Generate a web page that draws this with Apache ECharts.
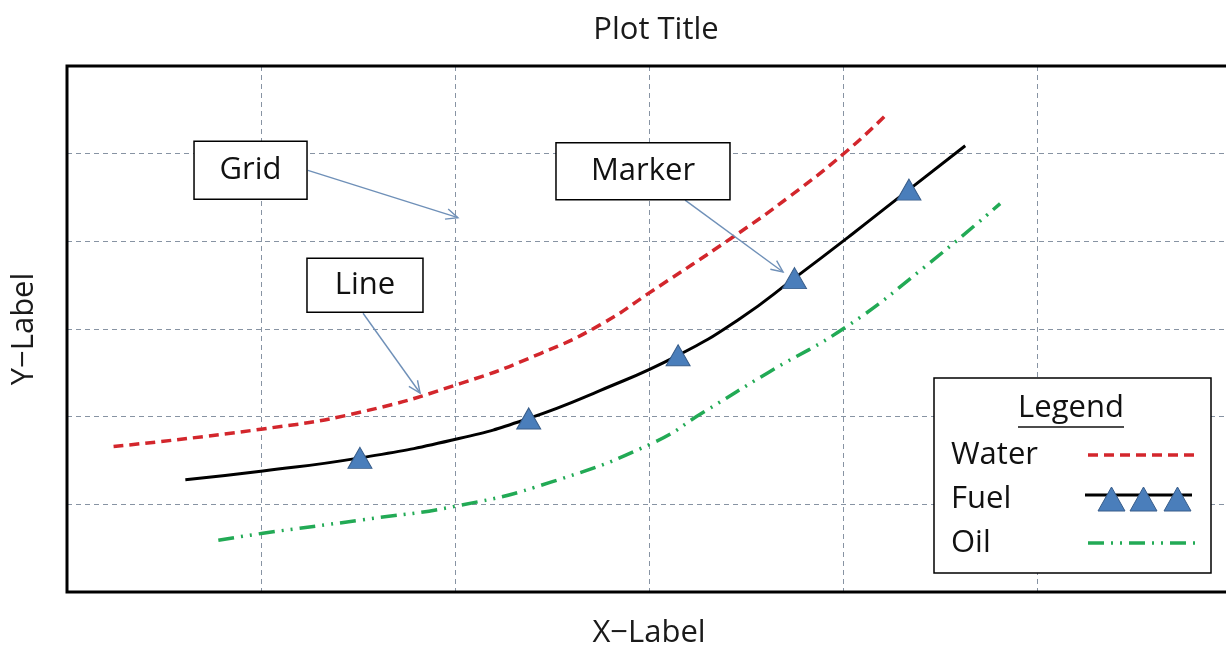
<!DOCTYPE html>
<html>
<head>
<meta charset="utf-8">
<title>Plot Title</title>
<script src="https://cdn.jsdelivr.net/npm/echarts@6/dist/echarts.min.js"></script>
</head>
<body style="margin:0">
<div id="chart" style="width:1226px;height:645px"></div>
<script>
// values (axis units = one grid cell)
var waterX = [0.24, 1.01, 1.51, 2.03, 2.44, 2.75, 3.02, 3.42, 3.73, 4.02, 4.23];
var waterY = [1.66, 1.86, 2.05, 2.38, 2.72, 3.05, 3.44, 4.03, 4.52, 5.03, 5.46];
var fuelX = [0.61, 1.01, 1.51, 2.02, 2.38, 2.75, 3.15, 3.47, 3.75, 4.04, 4.34, 4.63];
var fuelY = [1.28, 1.38, 1.53, 1.75, 1.98, 2.30, 2.70, 3.12, 3.58, 4.07, 4.59, 5.09];
var fuelMarked = [2, 4, 6, 8, 10];
var oilX = [0.78, 1.01, 1.51, 2.03, 2.49, 3.02, 3.28, 3.62, 4.02, 4.40, 4.81];
var oilY = [0.59, 0.67, 0.82, 0.99, 1.25, 1.70, 2.05, 2.51, 3.03, 3.67, 4.43];

// callouts: label, box centre and arrow in data units
var notes = [
  { text: 'Grid',   at: [0.946, 4.81], w: 113, h: 58, from: [1.242, 4.81], to: [2.015, 4.27] },
  { text: 'Line',   at: [1.536, 3.50], w: 116, h: 54, from: [1.526, 3.18], to: [1.820, 2.27] },
  { text: 'Marker', at: [2.969, 4.80], w: 174, h: 57, from: [3.186, 4.47], to: [3.691, 3.65] }
];

var font = 'Open Sans';
var fs = 31;

// legend icon for Fuel: three triangles (tiny end dots pin the icon width)
var threeTriangles = 'path://M0,12L0,12.01L0.01,12Z' +
  'M10,24L23.5,0L37,24Z M42,24L55.5,0L69,24Z M76,24L89.5,0L103,24Z' +
  'M107,12L107,12.01L106.99,12Z';

function pairs(xs, ys) {
  return xs.map(function (x, i) { return [x, ys[i]]; });
}

var fuelData = fuelX.map(function (x, i) {
  return {
    value: [x, fuelY[i]],
    symbol: fuelMarked.indexOf(i) >= 0 ? 'triangle' : 'none'
  };
});

var chart = echarts.init(document.getElementById('chart'));

var gridLine = { show: true, lineStyle: { color: '#8793a3', width: 1, type: [5, 4] } };
var noSymbol = { opacity: 0 };

chart.setOption({
  backgroundColor: '#fff',
  animation: false,
  title: {
    text: 'Plot Title',
    left: 651, top: 10, textAlign: 'center',
    textStyle: { fontFamily: font, fontSize: fs, fontWeight: 'normal', color: '#1a1a1a' }
  },
  grid: { left: 67, top: 66, right: -5, bottom: 53, outerBoundsMode: 'none' },
  xAxis: {
    type: 'value', min: 0, max: 6, interval: 1,
    name: 'X\u2212Label', nameLocation: 'middle', nameGap: 26,
    nameTextStyle: { fontFamily: font, fontSize: fs, color: '#1a1a1a' },
    axisLine: { show: false }, axisTick: { show: false }, axisLabel: { show: false },
    splitLine: gridLine
  },
  yAxis: {
    type: 'value', min: 0, max: 6, interval: 1,
    name: 'Y\u2212Label', nameLocation: 'middle', nameGap: 27,
    nameTextStyle: { fontFamily: font, fontSize: fs, color: '#1a1a1a' },
    axisLine: { show: false }, axisTick: { show: false }, axisLabel: { show: false },
    splitLine: gridLine
  },
  legend: {
    orient: 'vertical', left: 946, top: 433, align: 'right',
    itemWidth: 107, itemHeight: 24, itemGap: 10,
    selectedMode: false, z: 20,
    formatter: '{n|{name}}',
    textStyle: {
      fontFamily: font, fontSize: fs, color: '#111',
      rich: { n: { width: 132, height: 34, lineHeight: 34, align: 'left', fontFamily: font, fontSize: fs, color: '#111' } }
    },
    data: [
      { name: 'Water', itemStyle: noSymbol, lineStyle: { width: 3.5 } },
      { name: 'Fuel', icon: threeTriangles, itemStyle: { color: '#4a7ebb', borderColor: '#385d8a', borderWidth: 1 } },
      { name: 'Oil', itemStyle: noSymbol, lineStyle: { width: 3.5 } }
    ]
  },
  series: [
    {
      name: 'Water', type: 'line', smooth: true, symbol: 'none',
      lineStyle: { color: '#d3262c', width: 3.5, type: [10, 6] },
      itemStyle: { color: '#d3262c' },
      data: pairs(waterX, waterY)
    },
    {
      name: 'Fuel', type: 'line', smooth: true, showAllSymbol: true,
      symbol: 'triangle', symbolSize: [24, 21],
      lineStyle: { color: '#000', width: 3 },
      itemStyle: { color: '#4a7ebb', borderColor: '#385d8a', borderWidth: 1 },
      z: 3,
      data: fuelData
    },
    {
      name: 'Oil', type: 'line', smooth: true, symbol: 'none',
      lineStyle: { color: '#22aa55', width: 3.5, type: [16, 7, 2, 7, 2, 7] },
      itemStyle: { color: '#22aa55' },
      data: pairs(oilX, oilY)
    }
  ]
});

// plot frame, callout boxes, arrows and the legend frame
var g = [];
var tl = chart.convertToPixel({ gridIndex: 0 }, [0, 6]);
var br = chart.convertToPixel({ gridIndex: 0 }, [6, 0]);
g.push({
  type: 'rect', z: 5,
  shape: { x: tl[0], y: tl[1], width: br[0] - tl[0], height: br[1] - tl[1] },
  style: { fill: null, stroke: '#000', lineWidth: 3 }
});

notes.forEach(function (n) {
  var c = chart.convertToPixel({ gridIndex: 0 }, n.at);
  var a = chart.convertToPixel({ gridIndex: 0 }, n.from);
  var b = chart.convertToPixel({ gridIndex: 0 }, n.to);
  var ang = Math.atan2(b[1] - a[1], b[0] - a[0]);
  var len = 13, spread = 0.42;
  var arrowStyle = { stroke: '#6f90b8', lineWidth: 1.4, fill: null };
  g.push({ type: 'line', z: 30, shape: { x1: a[0], y1: a[1], x2: b[0], y2: b[1] }, style: arrowStyle });
  g.push({
    type: 'polyline', z: 30,
    shape: { points: [
      [b[0] - len * Math.cos(ang - spread), b[1] - len * Math.sin(ang - spread)],
      b,
      [b[0] - len * Math.cos(ang + spread), b[1] - len * Math.sin(ang + spread)]
    ] },
    style: arrowStyle
  });
  g.push({
    type: 'rect', z: 31,
    shape: { x: c[0] - n.w / 2, y: c[1] - n.h / 2, width: n.w, height: n.h },
    style: { fill: '#fff', stroke: '#000', lineWidth: 1.5 }
  });
  g.push({
    type: 'text', z: 32, x: c[0], y: c[1],
    style: { text: n.text, fontFamily: font, fontSize: fs, fill: '#111', align: 'center', verticalAlign: 'middle' }
  });
});

g.push({
  type: 'rect', z: 10,
  shape: { x: 934, y: 378, width: 277, height: 195 },
  style: { fill: '#fff', stroke: '#000', lineWidth: 1.5 }
});
g.push({
  type: 'text', z: 21, x: 1071, y: 408,
  style: { text: 'Legend', fontFamily: font, fontSize: fs, fill: '#111', align: 'center', verticalAlign: 'middle' }
});
g.push({
  type: 'line', z: 21, shape: { x1: 1018, y1: 427, x2: 1124, y2: 427 },
  style: { stroke: '#111', lineWidth: 1.5 }
});
// black line behind the Fuel legend triangles
g.push({
  type: 'line', z: 15, shape: { x1: 1085, y1: 495, x2: 1192, y2: 495 },
  style: { stroke: '#000', lineWidth: 3 }
});

chart.setOption({ graphic: g });
</script>
</body>
</html>
